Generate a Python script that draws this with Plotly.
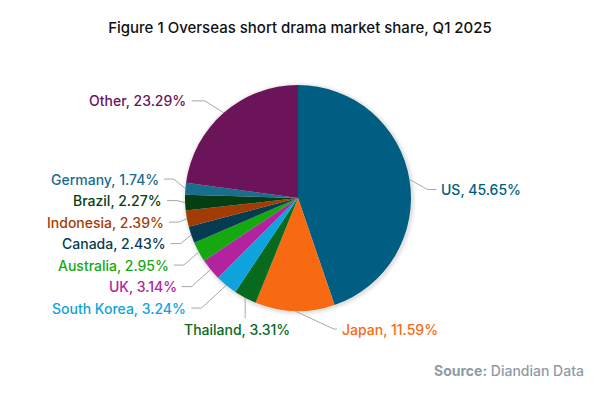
import math
import plotly.graph_objects as go

# ---- data ----
labels = ["US", "Japan", "Thailand", "South Korea", "UK", "Australia",
          "Canada", "Indonesia", "Brazil", "Germany", "Other"]
values = [45.65, 11.59, 3.31, 3.24, 3.14, 2.95, 2.43, 2.39, 2.27, 1.74, 23.29]

# ---- style ----
colors = ["#005E82", "#F86A12", "#076A1C", "#0FA3DD", "#B2239E", "#16A810",
          "#053C52", "#A33C04", "#053E12", "#196D8D", "#6B1459"]
FONT = "Inter, Open Sans, sans-serif"
W, H = 600, 398
CX, CY, R = 298, 198, 113          # pie centre / radius in pixels
LINE = "#A8A8A8"


def px(x):
    return x / W


def py(y):
    return 1 - y / H


fig = go.Figure()
fig.add_trace(go.Pie(
    labels=labels, values=values, sort=False, direction="clockwise",
    rotation=0, textinfo="none", hoverinfo="label+value",
    marker=dict(colors=colors, line=dict(width=0)),
    domain=dict(x=[px(CX - R), px(CX + R)], y=[py(CY + R), py(CY - R)]),
    showlegend=False,
))

# soft shadow under the pie
shapes = []
for i, a in enumerate([0.05, 0.035, 0.02]):
    d = 1.5 + i * 1.5
    shapes.append(dict(type="circle", xref="paper", yref="paper", layer="below",
                       x0=px(CX - R - d + 1), x1=px(CX + R + d + 1),
                       y0=py(CY + R + d + 1), y1=py(CY - R - d + 1),
                       fillcolor=f"rgba(0,0,0,{a})", line=dict(width=0)))

total = sum(values)
cum = 0
info = []
for lab, val, col in zip(labels, values, colors):
    mid = (cum + val / 2) / total * 360
    cum += val
    t = math.radians(mid)
    P = (CX + R * math.sin(t), CY - R * math.cos(t))
    info.append((lab, val, col, mid, P))

annots = []


def add_path(pts):
    d = "M " + " L ".join(f"{px(x):.5f},{py(y):.5f}" for x, y in pts)
    shapes.append(dict(type="path", xref="paper", yref="paper", path=d,
                       line=dict(color=LINE, width=1)))


def add_text(txt, x, y, col, xanchor):
    annots.append(dict(text=txt, x=px(x), y=py(y), xref="paper", yref="paper",
                       showarrow=False, xanchor=xanchor, yanchor="middle",
                       font=dict(family=FONT, size=14, color=col, weight=500)))


# left column grouping
left = [it for it in info if 215 <= it[3] < 300]
R12 = R * 1.2
nat = [CY - R12 * math.cos(math.radians(it[3])) for it in left]
mean_y = sum(nat) / len(nat)
gap = 21.5
n = len(left)
for i, (lab, val, col, mid, P) in enumerate(sorted(left, key=lambda it: -it[3])):
    ly = mean_y + (i - (n - 1) / 2) * gap
    dy = ly - P[1]
    ex = P[0] - max(8, abs(dy) + 2)
    add_path([P, (ex, ly), (ex - 10, ly)])
    add_text(f"{lab}, {val:.2f}%", ex - 13, ly, col, "right")

yb = CY + R * 1.16
for lab, val, col, mid, P in info:
    txt = f"{lab}, {val:.2f}%"
    if mid < 160:                        # right side
        E = (P[0] + 18, P[1] + 10)
        add_path([P, E, (E[0] + 9, E[1])])
        add_text(txt, E[0] + 12, E[1], col, "left")
    elif mid < 200:                      # bottom right
        E = (P[0] + 39, yb)
        add_path([P, E, (E[0] + 3, E[1])])
        add_text(txt, E[0] + 6, yb, col, "left")
    elif mid < 215:                      # bottom
        add_path([P, (P[0], yb - 11)])
        add_text(txt, P[0] - 8, yb, col, "center")
    elif mid >= 300:                     # upper left
        E = (P[0] - 19, P[1] - 12)
        add_path([P, E, (E[0] - 13, E[1])])
        add_text(txt, E[0] - 17, E[1], col, "right")

annots.append(dict(text="<b>Source:</b> Diandian Data", x=px(586), y=py(370),
                   xref="paper", yref="paper", showarrow=False,
                   xanchor="right", yanchor="middle",
                   font=dict(family=FONT, size=14, color="#8E9BA5", weight=500)))

fig.update_layout(
    width=W, height=H, margin=dict(l=0, r=0, t=0, b=0),
    paper_bgcolor="white", plot_bgcolor="white",
    title=dict(text="Figure 1 Overseas short drama market share, Q1 2025",
               x=0.5, xanchor="center", y=py(28), yanchor="middle",
               font=dict(family=FONT, size=15, color="#111111", weight=500)),
    shapes=shapes, annotations=annots,
)
fig.write_html("out.html", config={"displayModeBar": False},
               post_script="document.body.style.margin='0';document.body.style.overflow='hidden';")
